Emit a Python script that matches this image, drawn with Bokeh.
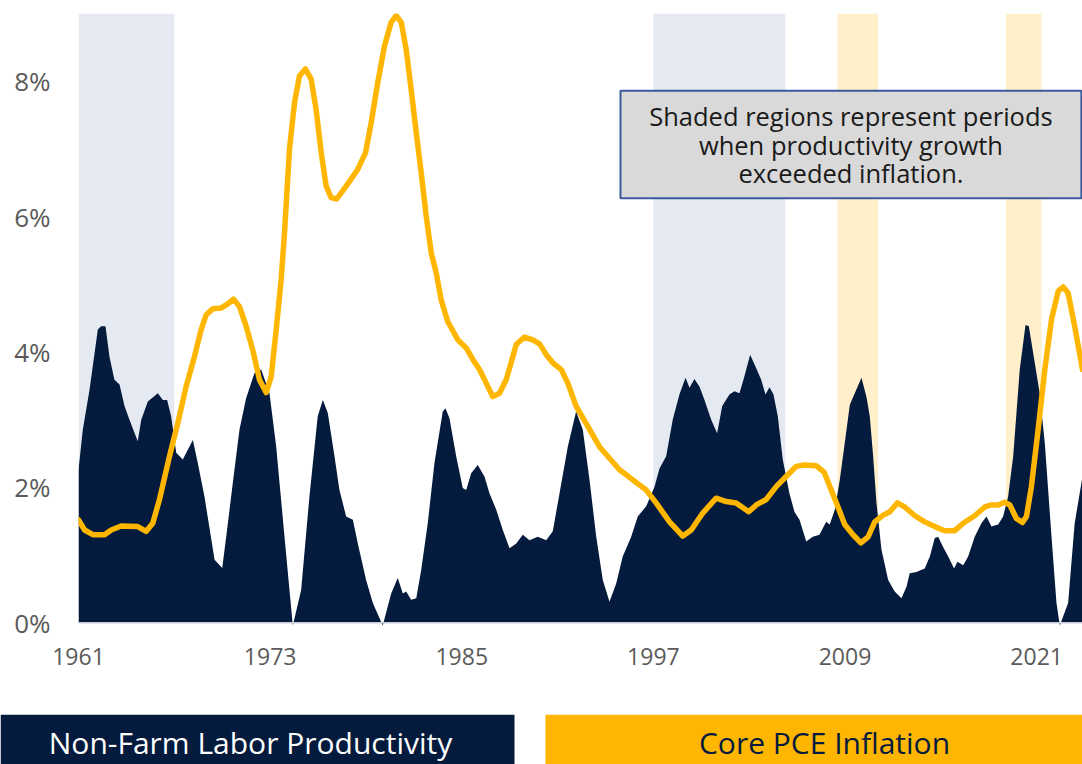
from bokeh.plotting import figure
from bokeh.models import FixedTicker, BoxAnnotation, Span, Label
from bokeh.layouts import column
from bokeh.embed import file_html
from bokeh.resources import INLINE
from bokeh.core.properties import value

# ---------------- data ----------------
prod_year = [1961.00, 1961.27, 1961.69, 1962.21, 1962.42, 1962.69, 1962.94, 1963.25, 1963.57, 1963.88,
             1964.19, 1964.71, 1964.93, 1965.34, 1965.97, 1966.28, 1966.55, 1966.80, 1967.12, 1967.53,
             1968.16, 1968.47, 1968.89, 1969.52, 1970.00, 1970.25, 1970.66, 1971.08, 1971.50, 1972.02,
             1972.44, 1972.96, 1973.38, 1973.90, 1974.42, 1974.94, 1975.46, 1975.98, 1976.30, 1976.61,
             1977.03, 1977.34, 1977.76, 1978.18, 1978.49, 1979.01, 1979.43, 1980.05, 1980.58, 1980.99,
             1981.31, 1981.52, 1981.83, 1982.15, 1982.46, 1982.87, 1983.29, 1983.81, 1983.98, 1984.23,
             1984.65, 1985.06, 1985.28, 1985.59, 1986.00, 1986.42, 1986.74, 1987.16, 1987.57, 1987.99,
             1988.41, 1988.82, 1989.24, 1989.76, 1990.29, 1990.70, 1991.12, 1991.64, 1992.16, 1992.58,
             1993.00, 1993.42, 1993.83, 1994.25, 1994.67, 1995.08, 1995.61, 1996.02, 1996.55, 1997.07,
             1997.38, 1997.80, 1998.21, 1998.63, 1999.01, 1999.26, 1999.57, 1999.88, 2000.20, 2000.62,
             2000.99, 2001.31, 2001.76, 2002.08, 2002.39, 2002.70, 2003.06, 2003.44, 2003.75, 2004.02,
             2004.27, 2004.52, 2004.79, 2005.10, 2005.52, 2005.83, 2006.15, 2006.57, 2006.98, 2007.40,
             2007.82, 2008.04, 2008.36, 2008.67, 2008.98, 2009.30, 2009.61, 2010.03, 2010.34, 2010.55,
             2010.76, 2010.97, 2011.28, 2011.70, 2012.11, 2012.53, 2012.85, 2013.05, 2013.47, 2013.99,
             2014.31, 2014.62, 2014.83, 2015.14, 2015.46, 2015.83, 2016.04, 2016.40, 2016.71, 2017.12,
             2017.54, 2017.86, 2018.17, 2018.59, 2018.90, 2019.21, 2019.53, 2019.94, 2020.30, 2020.51,
             2020.88, 2021.19, 2021.51, 2021.93, 2022.24, 2022.45, 2022.97, 2023.38, 2023.87]
prod_val = [2.26, 2.85, 3.44, 4.33, 4.38, 4.38, 3.93, 3.59, 3.52, 3.20,
            3.00, 2.68, 3.00, 3.27, 3.39, 3.29, 3.29, 3.05, 2.51, 2.41,
            2.70, 2.36, 1.86, 0.93, 0.81, 1.27, 2.06, 2.85, 3.32, 3.69,
            3.74, 3.39, 2.60, 1.27, -0.04, 0.48, 1.86, 3.05, 3.29, 3.10,
            2.46, 1.96, 1.57, 1.52, 1.17, 0.63, 0.29, -0.04, 0.43, 0.66,
            0.43, 0.46, 0.34, 0.36, 0.78, 1.47, 2.36, 3.12, 3.17, 3.02,
            2.46, 1.99, 1.96, 2.21, 2.33, 2.16, 1.91, 1.67, 1.37, 1.10,
            1.17, 1.30, 1.22, 1.27, 1.22, 1.35, 1.91, 2.60, 3.12, 2.85,
            2.11, 1.27, 0.63, 0.31, 0.58, 0.98, 1.27, 1.57, 1.72, 2.01,
            2.28, 2.46, 3.00, 3.37, 3.62, 3.47, 3.60, 3.49, 3.29, 3.00,
            2.80, 3.20, 3.37, 3.42, 3.39, 3.64, 3.96, 3.76, 3.59, 3.37,
            3.48, 3.37, 3.05, 2.41, 1.91, 1.64, 1.52, 1.20, 1.27, 1.30,
            1.49, 1.45, 1.67, 2.11, 2.65, 3.22, 3.39, 3.62, 3.34, 3.05,
            2.46, 1.77, 1.08, 0.63, 0.46, 0.36, 0.53, 0.73, 0.75, 0.80,
            0.98, 1.25, 1.27, 1.12, 0.98, 0.80, 0.90, 0.85, 0.98, 1.27,
            1.47, 1.57, 1.42, 1.45, 1.57, 1.86, 2.46, 3.74, 4.40, 4.38,
            3.84, 3.39, 2.65, 1.27, 0.29, -0.04, 0.29, 1.47, 2.16]

infl_year = [1961.00, 1961.38, 1961.90, 1962.63, 1963.05, 1963.67, 1964.71, 1965.24, 1965.65, 1966.07,
             1966.70, 1967.22, 1967.74, 1968.26, 1968.68, 1969.00, 1969.41, 1969.94, 1970.35, 1970.71,
             1971.08, 1971.50, 1971.91, 1972.33, 1972.75, 1973.07, 1973.38, 1973.69, 1973.90, 1974.21,
             1974.53, 1974.84, 1975.21, 1975.57, 1975.88, 1976.20, 1976.51, 1976.82, 1977.17, 1977.55,
             1977.97, 1978.49, 1978.97, 1979.33, 1979.74, 1980.16, 1980.58, 1980.89, 1981.21, 1981.52,
             1981.83, 1982.15, 1982.46, 1982.77, 1983.09, 1983.40, 1983.71, 1984.12, 1984.75, 1985.28,
             1985.69, 1986.11, 1986.53, 1986.94, 1987.36, 1987.78, 1988.09, 1988.41, 1988.93, 1989.45,
             1989.87, 1990.29, 1990.70, 1991.23, 1991.64, 1992.16, 1992.89, 1993.62, 1994.25, 1994.88,
             1995.71, 1996.55, 1997.17, 1998.01, 1998.84, 1999.37, 2000.09, 2000.93, 2001.56, 2002.18,
             2002.97, 2003.44, 2004.06, 2004.69, 2005.31, 2005.94, 2006.46, 2007.19, 2007.70, 2008.46,
             2008.98, 2009.50, 2009.99, 2010.45, 2010.86, 2011.39, 2011.80, 2012.28, 2012.74, 2013.37,
             2013.99, 2014.62, 2015.24, 2015.87, 2016.40, 2017.12, 2017.75, 2018.17, 2018.59, 2019.00,
             2019.32, 2019.73, 2020.11, 2020.36, 2020.67, 2021.09, 2021.51, 2021.93, 2022.35, 2022.66,
             2022.97, 2023.38, 2023.87]
infl_val = [1.52, 1.37, 1.30, 1.30, 1.37, 1.43, 1.42, 1.35, 1.47, 1.82,
            2.46, 2.95, 3.49, 3.93, 4.33, 4.55, 4.64, 4.65, 4.71, 4.78,
            4.67, 4.38, 4.03, 3.59, 3.40, 3.64, 4.33, 5.07, 5.76, 6.99,
            7.69, 8.08, 8.18, 8.03, 7.58, 6.94, 6.45, 6.28, 6.26, 6.38,
            6.52, 6.70, 6.94, 7.39, 7.98, 8.52, 8.87, 8.97, 8.87, 8.47,
            7.88, 7.24, 6.65, 6.01, 5.46, 5.17, 4.77, 4.45, 4.18, 4.06,
            3.89, 3.74, 3.54, 3.34, 3.39, 3.59, 3.84, 4.11, 4.22, 4.18,
            4.12, 3.96, 3.84, 3.74, 3.54, 3.20, 2.90, 2.60, 2.43, 2.26,
            2.11, 1.96, 1.77, 1.49, 1.28, 1.37, 1.62, 1.84, 1.79, 1.77,
            1.64, 1.74, 1.82, 2.01, 2.16, 2.31, 2.33, 2.32, 2.22, 1.77,
            1.45, 1.30, 1.18, 1.27, 1.49, 1.59, 1.64, 1.77, 1.71, 1.58,
            1.49, 1.42, 1.36, 1.36, 1.47, 1.58, 1.71, 1.74, 1.74, 1.78,
            1.74, 1.54, 1.48, 1.57, 2.01, 2.85, 3.74, 4.48, 4.90, 4.96,
            4.87, 4.38, 3.74]

# periods when productivity growth exceeded inflation
blue_start = [1961.0, 1997.0]
blue_end = [1967.0, 2005.27]
yellow_start = [2008.53, 2019.07]
yellow_end = [2011.07, 2021.30]

x_ticks = [1961, 1973, 1985, 1997, 2009, 2021]
x_tick_labels = ["1961", "1973", "1985", "1997", "2009", "2021"]
y_ticks = [0, 2, 4, 6, 8]
y_tick_labels = ["0%", "2%", "4%", "6%", "8%"]

note_lines = ["Shaded regions represent periods",
              "when productivity growth",
              "exceeded inflation."]
legend_labels = ["Non-Farm Labor Productivity", "Core PCE Inflation"]

# ---------------- styles ----------------
NAVY = "#041b3d"
GOLD = "#ffb600"
BLUE_SHADE = "#e5e9f1"
YELLOW_SHADE = "#fff0cb"
FONT = "Open Sans"
GRAY = "#5a5a5a"

X0, X1 = 1961, 2023.87
Y0, Y1 = -0.1, 9.0

p = figure(width=1082, height=714, x_range=(X0, X1), y_range=(Y0, Y1),
           output_backend="svg", toolbar_location=None,
           min_border_left=78, min_border_right=0, min_border_top=13, min_border_bottom=85)
p.outline_line_color = None
p.grid.visible = False
p.background_fill_color = "white"
p.border_fill_color = "white"

p.quad(left=blue_start, right=blue_end, bottom=0, top=Y1,
       fill_color=BLUE_SHADE, line_color=None)
p.quad(left=yellow_start, right=yellow_end, bottom=0, top=Y1,
       fill_color=YELLOW_SHADE, line_color=None)

p.varea(x=prod_year, y1=0, y2=prod_val, fill_color=NAVY)
p.add_layout(Span(location=0, dimension="width", line_color="#c5cbd8", line_width=1.5))
p.line(infl_year, infl_val, line_color=GOLD, line_width=5.5,
       line_join="round", line_cap="round")

# annotation box with note
p.add_layout(BoxAnnotation(left=1994.94, right=2023.8, top=7.86, bottom=6.27,
                           fill_color="#d9d9d9", fill_alpha=1.0,
                           line_color="#3a5a9c", line_width=2, line_alpha=1.0))
for txt, yy in zip(note_lines, [7.49, 7.06, 6.64]):
    p.add_layout(Label(x=2009.37, y=yy, text=txt, text_font=FONT, text_font_size="25.5px",
                       text_color="#1a1a1a", text_align="center", text_baseline="middle"))

# axes
for ax in (p.xaxis, p.yaxis):
    ax.axis_line_color = None
    ax.major_tick_line_color = None
    ax.minor_tick_line_color = None
    ax.major_label_text_font = FONT
    ax.major_label_text_color = GRAY

p.xaxis.ticker = FixedTicker(ticks=x_ticks)
p.xaxis.major_label_overrides = dict(zip(x_ticks, x_tick_labels))
p.xaxis.major_label_text_font_size = "23px"
p.xaxis.major_label_standoff = 12
p.yaxis.ticker = FixedTicker(ticks=y_ticks)
p.yaxis.major_label_overrides = dict(zip(y_ticks, y_tick_labels))
p.yaxis.major_label_text_font_size = "26px"
p.yaxis.major_label_standoff = 22

# legend strip
legend_colors = [NAVY, GOLD]
legend_text_colors = ["white", NAVY]
legend_left = [0, 545]
legend_right = [514, 1082]
legend_center = [250, 824]

lg = figure(width=1082, height=50, x_range=(0, 1082), y_range=(0, 50),
            output_backend="svg", toolbar_location=None,
            x_axis_type=None, y_axis_type=None,
            min_border_left=0, min_border_right=0, min_border_top=0, min_border_bottom=0)
lg.outline_line_color = None
lg.grid.visible = False
lg.border_fill_color = "white"
lg.quad(left=legend_left, right=legend_right, bottom=0, top=50,
        fill_color=legend_colors, line_color=None)
lg.text(x=legend_center, y=[22, 22], text=legend_labels,
        text_color=legend_text_colors, text_font=value(FONT), text_font_size="30px",
        text_align="center", text_baseline="middle")

for fig in (p, lg):
    try:
        fig.frame_align = False
    except Exception:
        pass

layout = column(p, lg, spacing=0)
open("out.html", "w").write(file_html(layout, INLINE))
